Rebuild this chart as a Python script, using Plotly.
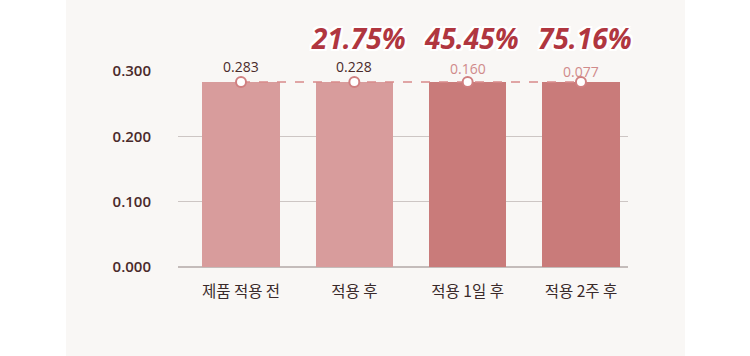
import plotly.graph_objects as go

categories = ["제품 적용 전", "적용 후", "적용 1일 후", "적용 2주 후"]
bar_values = [0.283, 0.283, 0.283, 0.283]
point_values = [0.283, 0.283, 0.283, 0.283]
label_values = ["0.283", "0.228", "0.160", "0.077"]
improvements = ["", "21.75%", "45.45%", "75.16%"]
y_ticks = [0.0, 0.1, 0.2, 0.3]
y_tick_text = ["0.000", "0.100", "0.200", "0.300"]

bar_colors = ["#d89c9c", "#d89c9c", "#c97b7a", "#c97b7a"]
label_colors = ["#4a2a2a", "#4a2a2a", "#d08a8a", "#d08a8a"]
label_shift = [14, 14, 12, 9]

xs = list(range(len(categories)))

fig = go.Figure()
fig.add_trace(go.Bar(
    x=xs, y=bar_values, width=0.68,
    marker=dict(color=bar_colors, line=dict(width=0)),
    hoverinfo="skip",
))
fig.add_trace(go.Scatter(
    x=xs, y=point_values, mode="lines+markers",
    line=dict(color="#d88a8a", width=1.5, dash="dash"),
    marker=dict(size=10, color="white", line=dict(color="#d07f80", width=2)),
    hoverinfo="skip", cliponaxis=False,
))

annotations = []
for i, (v, t, c, s) in enumerate(zip(point_values, label_values, label_colors, label_shift)):
    annotations.append(dict(
        x=xs[i], y=v, xref="x", yref="y", text=t, showarrow=False, borderpad=0,
        yshift=s + 2, font=dict(family="Open Sans", size=14, color=c, weight=500),
    ))
for i, t in enumerate(improvements):
    if not t:
        continue
    annotations.append(dict(
        x=xs[i], y=point_values[i], xref="x", yref="y", text=t, showarrow=False,
        xshift=4, yshift=44, borderpad=0,
        font=dict(family="Open Sans", size=28, color="#b0363f", weight=700, style="italic",
                  shadow="2px 0 0 #fff, -2px 0 0 #fff, 0 2px 0 #fff, 0 -2px 0 #fff, 2px 2px 0 #fff, -2px -2px 0 #fff, 2px -2px 0 #fff, -2px 2px 0 #fff, 0 0 5px #fff"),
    ))

fig.update_layout(
    width=750, height=356,
    margin=dict(l=178, r=122, t=71, b=89),
    paper_bgcolor="white", plot_bgcolor="rgba(0,0,0,0)",
    showlegend=False,
    bargap=0,
    annotations=annotations,
    shapes=[dict(type="rect", xref="paper", yref="paper",
                 x0=(66 - 178) / 450, x1=(685 - 178) / 450,
                 y0=(267 - 356) / 196, y1=267 / 196,
                 fillcolor="#f9f7f5", line=dict(width=0), layer="below")],
    xaxis=dict(
        range=[-0.556, 3.415], tickvals=xs, ticktext=categories,
        showgrid=False, zeroline=False, showline=False, ticks="",
        tickfont=dict(family="Noto Sans CJK KR", size=15.5, color="#3a2a2a"),
        ticklabelstandoff=13, fixedrange=True,
    ),
    yaxis=dict(
        range=[0, 0.3], tickvals=y_ticks, ticktext=y_tick_text,
        showgrid=True, gridcolor="#cdc6c4", gridwidth=1,
        zeroline=True, zerolinecolor="#c4bcba", zerolinewidth=1.5,
        showline=False, ticks="",
        tickfont=dict(family="Open Sans", size=15, color="#4a2a2a", weight=600),
        ticklabelstandoff=26, fixedrange=True,
    ),
)

fig.write_html("out.html", config={"displayModeBar": False},
               post_script="document.body.style.margin='0';document.body.style.overflow='hidden';")
